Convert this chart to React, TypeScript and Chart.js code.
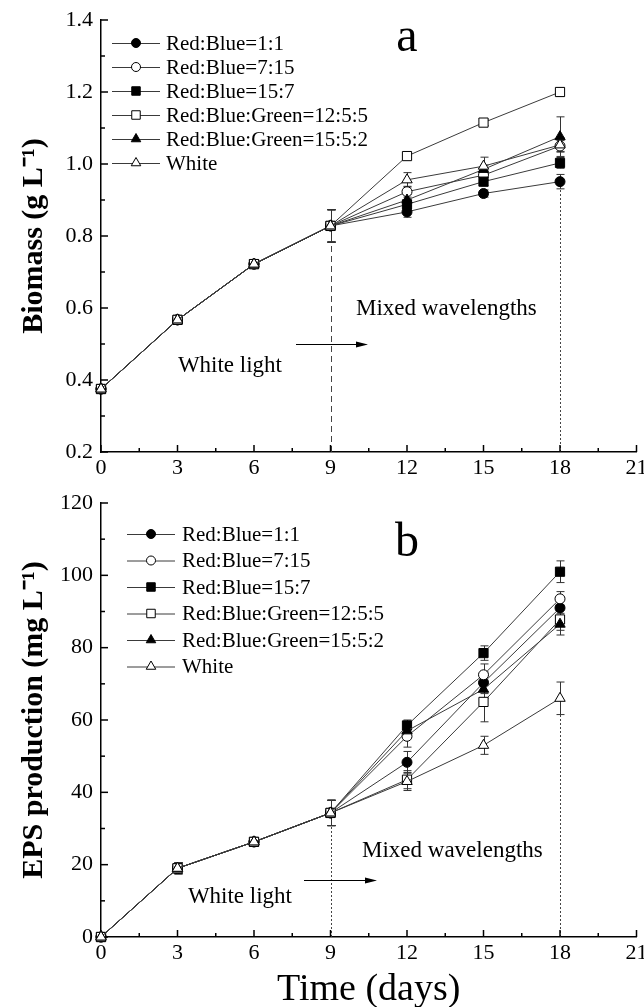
import React, { useEffect, useRef } from "react";
import { Chart, registerables } from "chart.js";

Chart.register(...registerables);

const FONT = "'Liberation Serif', 'Times New Roman', serif";

// ---------- data ----------
const days = [0, 3, 6, 9, 12, 15, 18];
const seriesNames = [
  "Red:Blue=1:1",
  "Red:Blue=7:15",
  "Red:Blue=15:7",
  "Red:Blue:Green=12:5:5",
  "Red:Blue:Green=15:5:2",
  "White",
];

// Biomass (g L-1)
const biomassRB11 = [0.375, 0.567, 0.722, 0.828, 0.867, 0.918, 0.951];
const biomassRB715 = [0.375, 0.567, 0.722, 0.828, 0.923, 0.969, 1.05];
const biomassRB157 = [0.375, 0.567, 0.722, 0.828, 0.888, 0.951, 1.003];
const biomassRBG1255 = [0.375, 0.567, 0.722, 0.828, 1.022, 1.115, 1.2];
const biomassRBG1552 = [0.375, 0.567, 0.722, 0.828, 0.9, 0.985, 1.076];
const biomassWhite = [0.375, 0.567, 0.722, 0.828, 0.956, 0.994, 1.053];

const biomassErrRB11 = [0.008, 0.008, 0.01, 0.045, 0.015, 0.01, 0.02];
const biomassErrRB715 = [0.008, 0.008, 0.01, 0.045, 0.015, 0.012, 0.015];
const biomassErrRB157 = [0.008, 0.008, 0.01, 0.045, 0.012, 0.012, 0.015];
const biomassErrRBG1255 = [0.008, 0.008, 0.01, 0.045, 0.01, 0.008, 0.012];
const biomassErrRBG1552 = [0.008, 0.008, 0.01, 0.045, 0.015, 0.012, 0.055];
const biomassErrWhite = [0.008, 0.008, 0.01, 0.045, 0.02, 0.025, 0.02];

// EPS production (mg L-1)
const epsRB11 = [0, 19, 26.3, 34.3, 48.3, 70.3, 91];
const epsRB715 = [0, 19, 26.3, 34.3, 55.5, 72.5, 93.5];
const epsRB157 = [0, 19, 26.3, 34.3, 58.5, 78.5, 101];
const epsRBG1255 = [0, 19, 26.3, 34.3, 43.5, 65, 87.8];
const epsRBG1552 = [0, 19, 26.3, 34.3, 57, 68.5, 86.5];
const epsWhite = [0, 19, 26.3, 34.3, 43, 53, 66];

const epsErrRB11 = [0, 1.5, 1, 3.5, 3, 3, 3];
const epsErrRB715 = [0, 1.5, 1, 3.5, 3, 3, 2];
const epsErrRB157 = [0, 1.5, 1, 3.5, 1.5, 2, 3];
const epsErrRBG1255 = [0, 1.5, 1, 3.5, 2.5, 5.5, 3];
const epsErrRBG1552 = [0, 1.5, 1, 3.5, 2, 2.5, 3];
const epsErrWhite = [0, 1.5, 1, 3.5, 2.5, 2.5, 4.5];

// guide lines: day and value where they stop
const biomassGuideDays = [9, 18];
const biomassGuideTops = [0.78, 0.93];
const epsGuideDays = [9, 18];
const epsGuideTops = [30.8, 61.5];

// ---------- styles ----------
const markerStyles = ["circle", "circle", "rect", "rect", "triangle", "triangle"];
const markerFilled = [true, false, true, false, true, false];
const markerRadius = [5, 5, 6.5, 6.5, 6, 6];
const legendRadius = [4.5, 4.5, 6, 6, 5.5, 5.5];

type PanelSpec = {
  height: number;
  areaTop: number;
  xScaleHeight: number;
  yMin: number;
  yMax: number;
  yStep: number;
  yDecimals: number;
  yTitle: string;
  xTitle: string | null;
  series: number[][];
  errors: number[][];
  guideDays: number[];
  guideTops: number[];
  guideDash: number[][];
  letter: string;
  letterX: number;
  letterY: number;
  legendX0: number;
  legendX1: number;
  legendTextX: number;
  legendY0: number;
  legendGap: number;
  mixedX: number;
  mixedY: number;
  whiteRight: number;
  whiteY: number;
  arrowX0: number;
  arrowX1: number;
  arrowY: number;
};

const topPanel: PanelSpec = {
  height: 482,
  areaTop: 20,
  xScaleHeight: 30,
  yMin: 0.2,
  yMax: 1.4,
  yStep: 0.2,
  yDecimals: 1,
  yTitle: "Biomass (g L\u207B\u00B9)",
  xTitle: null,
  series: [biomassRB11, biomassRB715, biomassRB157, biomassRBG1255, biomassRBG1552, biomassWhite],
  errors: [biomassErrRB11, biomassErrRB715, biomassErrRB157, biomassErrRBG1255, biomassErrRBG1552, biomassErrWhite],
  guideDays: biomassGuideDays,
  guideTops: biomassGuideTops,
  guideDash: [[6, 4], [2, 2]],
  letter: "a",
  letterX: 407,
  letterY: 51,
  legendX0: 112,
  legendX1: 160,
  legendTextX: 166,
  legendY0: 43,
  legendGap: 24,
  mixedX: 356,
  mixedY: 309,
  whiteRight: 282,
  whiteY: 366,
  arrowX0: 296,
  arrowX1: 368,
  arrowY: 344,
};

// bottom canvas starts at page y = 482
const bottomPanel: PanelSpec = {
  height: 525,
  areaTop: 21,
  xScaleHeight: 70,
  yMin: 0,
  yMax: 120,
  yStep: 20,
  yDecimals: 0,
  yTitle: "EPS production (mg L\u207B\u00B9)",
  xTitle: "Time (days)",
  series: [epsRB11, epsRB715, epsRB157, epsRBG1255, epsRBG1552, epsWhite],
  errors: [epsErrRB11, epsErrRB715, epsErrRB157, epsErrRBG1255, epsErrRBG1552, epsErrWhite],
  guideDays: epsGuideDays,
  guideTops: epsGuideTops,
  guideDash: [[2, 2], [2, 2]],
  letter: "b",
  letterX: 407,
  letterY: 74,
  legendX0: 127,
  legendX1: 175,
  legendTextX: 182,
  legendY0: 52,
  legendGap: 26.5,
  mixedX: 362,
  mixedY: 369,
  whiteRight: 292,
  whiteY: 415,
  arrowX0: 304,
  arrowX1: 377,
  arrowY: 398,
};

function drawMarker(
  ctx: CanvasRenderingContext2D,
  style: string,
  x: number,
  y: number,
  r: number,
  filled: boolean
) {
  ctx.beginPath();
  if (style === "circle") {
    ctx.arc(x, y, r, 0, Math.PI * 2);
  } else if (style === "rect") {
    const s = Math.SQRT1_2 * r;
    ctx.rect(x - s, y - s, 2 * s, 2 * s);
  } else {
    let rad = 0;
    ctx.moveTo(x + Math.sin(rad) * r, y - Math.cos(rad) * r);
    rad += (2 * Math.PI) / 3;
    ctx.lineTo(x + Math.sin(rad) * r, y - Math.cos(rad) * r);
    rad += (2 * Math.PI) / 3;
    ctx.lineTo(x + Math.sin(rad) * r, y - Math.cos(rad) * r);
    ctx.closePath();
  }
  ctx.fillStyle = filled ? "#000" : "#fff";
  ctx.fill();
  ctx.strokeStyle = "#000";
  ctx.lineWidth = 1;
  ctx.stroke();
}

const decorPlugin = {
  id: "decor",
  beforeDatasetsDraw(chart: any, _args: any, opts: any) {
    const p: PanelSpec = opts.panel;
    const { ctx, chartArea: a } = chart;
    const x = chart.scales.x;
    const y = chart.scales.y;
    ctx.save();
    // guide lines
    ctx.strokeStyle = "#444";
    ctx.lineWidth = 1;
    p.guideDays.forEach((d, i) => {
      const px = Math.round(x.getPixelForValue(d)) + 0.5;
      ctx.setLineDash(p.guideDash[i]);
      ctx.beginPath();
      ctx.moveTo(px, a.bottom);
      ctx.lineTo(px, y.getPixelForValue(p.guideTops[i]));
      ctx.stroke();
    });
    ctx.setLineDash([]);
    // inward ticks
    ctx.strokeStyle = "#000";
    ctx.lineWidth = 1.5;
    const xmin = x.min as number;
    const xmax = x.max as number;
    const xs = 1.5;
    const nx = Math.round((xmax - xmin) / xs);
    for (let k = 0; k <= nx; k++) {
      const px = x.getPixelForValue(xmin + k * xs);
      const len = k % 2 === 0 ? 7 : 4;
      ctx.beginPath();
      ctx.moveTo(px, a.bottom);
      ctx.lineTo(px, a.bottom - len);
      ctx.stroke();
    }
    const ys = p.yStep / 2;
    const ny = Math.round((p.yMax - p.yMin) / ys);
    for (let k = 0; k <= ny; k++) {
      const py = y.getPixelForValue(p.yMin + k * ys);
      const len = k % 2 === 0 ? 7 : 4;
      ctx.beginPath();
      ctx.moveTo(a.left, py);
      ctx.lineTo(a.left + len, py);
      ctx.stroke();
    }
    // error bars
    ctx.strokeStyle = "#333";
    ctx.lineWidth = 1;
    chart.data.datasets.forEach((ds: any, i: number) => {
      const errs = p.errors[i];
      ds.data.forEach((pt: any, j: number) => {
        const e = errs[j];
        if (!e) return;
        const px = Math.round(x.getPixelForValue(pt.x)) + 0.5;
        const yt = y.getPixelForValue(pt.y + e);
        const yb = y.getPixelForValue(pt.y - e);
        ctx.beginPath();
        ctx.moveTo(px, yt);
        ctx.lineTo(px, yb);
        ctx.moveTo(px - 4, yt);
        ctx.lineTo(px + 4, yt);
        ctx.moveTo(px - 4, yb);
        ctx.lineTo(px + 4, yb);
        ctx.stroke();
      });
    });
    ctx.restore();
  },
  afterDatasetsDraw(chart: any, _args: any, opts: any) {
    const p: PanelSpec = opts.panel;
    const { ctx } = chart;
    ctx.save();
    // legend
    ctx.font = `21px ${FONT}`;
    ctx.textBaseline = "middle";
    ctx.textAlign = "left";
    seriesNames.forEach((name, i) => {
      const ly = p.legendY0 + i * p.legendGap;
      ctx.strokeStyle = "#3a3a3a";
      ctx.lineWidth = 1;
      ctx.beginPath();
      ctx.moveTo(p.legendX0, ly + 0.5);
      ctx.lineTo(p.legendX1, ly + 0.5);
      ctx.stroke();
      drawMarker(ctx, markerStyles[i], (p.legendX0 + p.legendX1) / 2, ly, legendRadius[i], markerFilled[i]);
      ctx.fillStyle = "#000";
      ctx.fillText(name, p.legendTextX, ly + 1);
    });
    // panel letter
    ctx.font = `48px ${FONT}`;
    ctx.textAlign = "center";
    ctx.textBaseline = "alphabetic";
    ctx.fillStyle = "#000";
    ctx.fillText(p.letter, p.letterX, p.letterY);
    // annotations
    ctx.font = `23px ${FONT}`;
    ctx.textBaseline = "middle";
    ctx.textAlign = "left";
    ctx.fillText("Mixed wavelengths", p.mixedX, p.mixedY);
    ctx.textAlign = "right";
    ctx.fillText("White light", p.whiteRight, p.whiteY);
    // arrow
    ctx.strokeStyle = "#000";
    ctx.lineWidth = 1;
    ctx.beginPath();
    ctx.moveTo(p.arrowX0, p.arrowY + 0.5);
    ctx.lineTo(p.arrowX1 - 8, p.arrowY + 0.5);
    ctx.stroke();
    ctx.beginPath();
    ctx.moveTo(p.arrowX1, p.arrowY + 0.5);
    ctx.lineTo(p.arrowX1 - 12, p.arrowY - 2.5);
    ctx.lineTo(p.arrowX1 - 12, p.arrowY + 3.5);
    ctx.closePath();
    ctx.fillStyle = "#000";
    ctx.fill();
    ctx.restore();
  },
};

function buildConfig(p: PanelSpec): any {
  return {
    type: "line",
    data: {
      datasets: p.series.map((vals, i) => ({
        label: seriesNames[i],
        data: days.map((d, j) => ({ x: d, y: vals[j] })),
        borderColor: "#3a3a3a",
        borderWidth: 1,
        pointStyle: markerStyles[i],
        pointRadius: markerRadius[i],
        pointBackgroundColor: markerFilled[i] ? "#000" : "#fff",
        pointBorderColor: "#000",
        pointBorderWidth: 1,
        tension: 0,
        fill: false,
        clip: false,
        order: seriesNames.length - 1 - i,
      })),
    },
    options: {
      animation: false,
      responsive: false,
      devicePixelRatio: 1,
      events: [],
      layout: { padding: { left: 0, right: 7, top: p.areaTop, bottom: 0 } },
      plugins: {
        legend: { display: false },
        tooltip: { enabled: false },
        decor: { panel: p },
      },
      scales: {
        x: {
          type: "linear",
          min: 0,
          max: 21,
          ticks: {
            stepSize: 3,
            autoSkip: false,
            maxRotation: 0,
            color: "#000",
            padding: 3,
            font: { family: FONT, size: 22 },
          },
          grid: { display: false, drawTicks: false },
          border: { display: true, color: "#000", width: 1.5 },
          title: {
            display: !!p.xTitle,
            text: p.xTitle || "",
            color: "#000",
            font: { family: FONT, size: 38, lineHeight: 1 },
            padding: { top: 0, bottom: -2 },
          },
          afterFit: (s: any) => {
            s.height = p.xScaleHeight;
            s.paddingLeft = 0;
            s.paddingRight = 0;
          },
        },
        y: {
          type: "linear",
          min: p.yMin,
          max: p.yMax,
          ticks: {
            stepSize: p.yStep,
            autoSkip: false,
            color: "#000",
            padding: 8,
            font: { family: FONT, size: 22 },
            callback: (v: any) => Number(v).toFixed(p.yDecimals),
          },
          grid: { display: false, drawTicks: false },
          border: { display: true, color: "#000", width: 1.5 },
          title: {
            display: true,
            text: p.yTitle,
            color: "#000",
            font: { family: FONT, size: 30, weight: "bold", lineHeight: 1.2 },
            padding: { top: 16, bottom: 0 },
          },
          afterFit: (s: any) => {
            s.width = 101;
            s.paddingTop = 0;
            s.paddingBottom = 0;
          },
        },
      },
    },
    plugins: [decorPlugin],
  };
}

function ChartPanel({ panel }: { panel: PanelSpec }) {
  const ref = useRef<HTMLCanvasElement | null>(null);
  useEffect(() => {
    if (!ref.current) return;
    const chart = new Chart(ref.current, buildConfig(panel));
    return () => chart.destroy();
  }, [panel]);
  return (
    <canvas
      ref={ref}
      width={644}
      height={panel.height}
      style={{ display: "block", width: 644, height: panel.height }}
    />
  );
}

export default function App() {
  return (
    <div
      style={{
        position: "absolute",
        left: 0,
        top: 0,
        width: 644,
        height: 1007,
        background: "#fff",
        overflow: "hidden",
      }}
    >
      <ChartPanel panel={topPanel} />
      <ChartPanel panel={bottomPanel} />
    </div>
  );
}
